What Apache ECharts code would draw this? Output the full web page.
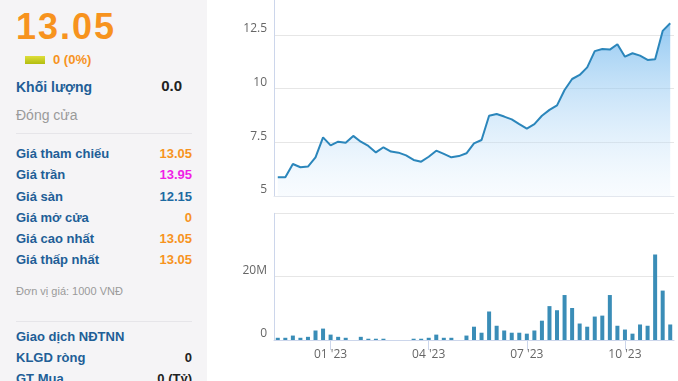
<!DOCTYPE html>
<html>
<head>
<meta charset="utf-8">
<script src="https://cdn.jsdelivr.net/npm/echarts@6/dist/echarts.min.js"></script>
<style>
html,body{margin:0;padding:0;background:#fff;width:678px;height:381px;overflow:hidden;}
#chart{position:absolute;left:0;top:0;width:678px;height:381px;}
#panel{position:absolute;left:0;top:0;width:207px;height:381px;background:#f5f4f6;z-index:2;font-family:"Liberation Sans",Arial,Helvetica,sans-serif;overflow:hidden;}
#panel div{position:absolute;white-space:nowrap;}
.lbl{left:16px;font-weight:bold;font-size:13px;line-height:20px;color:#215e96;}
.val{right:15px;font-weight:bold;font-size:13px;line-height:20px;text-align:right;}
.sep{left:16px;width:176px;height:1px;background:#e6e5e9;}
</style>
</head>
<body>
<div id="chart"></div>
<div id="panel">
  <div style="left:16px;top:7px;font-size:36px;line-height:40px;font-weight:bold;color:#f7931e;letter-spacing:2px;">13.05</div>
  <div style="left:25px;top:56px;width:20px;height:8px;background:linear-gradient(#dede3a,#b2bd10);"></div>
  <div style="left:53px;top:50px;font-size:13px;line-height:20px;font-weight:bold;color:#f7931e;">0 (0%)</div>
  <div class="lbl" style="top:77px;font-size:14px;">Khối lượng</div>
  <div style="right:25px;top:76px;font-size:15px;line-height:20px;font-weight:bold;color:#222;">0.0</div>
  <div style="left:16px;top:105px;font-size:14px;line-height:20px;color:#9a9a9a;">Đóng cửa</div>
  <div class="sep" style="top:133px;"></div>
  <div class="lbl" style="top:144px;">Giá tham chiếu</div><div class="val" style="top:144px;color:#f7931e;">13.05</div>
  <div class="lbl" style="top:165px;">Giá trần</div><div class="val" style="top:165px;color:#f01fe6;">13.95</div>
  <div class="lbl" style="top:187px;">Giá sàn</div><div class="val" style="top:187px;color:#1d6aa2;">12.15</div>
  <div class="lbl" style="top:208px;">Giá mở cửa</div><div class="val" style="top:208px;color:#f7931e;">0</div>
  <div class="lbl" style="top:229px;">Giá cao nhất</div><div class="val" style="top:229px;color:#f7931e;">13.05</div>
  <div class="lbl" style="top:250px;">Giá thấp nhất</div><div class="val" style="top:250px;color:#f7931e;">13.05</div>
  <div style="left:16px;top:282px;font-size:11px;line-height:18px;color:#9a9a9a;">Đơn vị giá: 1000 VNĐ</div>
  <div class="sep" style="top:321px;"></div>
  <div class="lbl" style="top:327px;">Giao dịch NĐTNN</div>
  <div class="lbl" style="top:348px;">KLGD ròng</div><div class="val" style="top:348px;color:#222;">0</div>
  <div class="lbl" style="top:369px;">GT Mua</div><div class="val" style="top:369px;color:#222;">0 (Tỷ)</div>
</div>
<script>
// Weekly categories (Mondays)
var dates = [
  "2022-11-14","2022-11-21","2022-11-28","2022-12-05","2022-12-12","2022-12-19","2022-12-26",
  "2023-01-02","2023-01-09","2023-01-16","2023-01-23","2023-01-30","2023-02-06","2023-02-13",
  "2023-02-20","2023-02-27","2023-03-06","2023-03-13","2023-03-20","2023-03-27","2023-04-03",
  "2023-04-10","2023-04-17","2023-04-24","2023-05-01","2023-05-08","2023-05-15","2023-05-22",
  "2023-05-29","2023-06-05","2023-06-12","2023-06-19","2023-06-26","2023-07-03","2023-07-10",
  "2023-07-17","2023-07-24","2023-07-31","2023-08-07","2023-08-14","2023-08-21","2023-08-28",
  "2023-09-04","2023-09-11","2023-09-18","2023-09-25","2023-10-02","2023-10-09","2023-10-16",
  "2023-10-23","2023-10-30","2023-11-06","2023-11-13"
];
// Closing price (1000 VND)
var price = [
  5.87, 5.87, 6.49, 6.34, 6.37, 6.80, 7.73, 7.36, 7.53, 7.48,
  7.80, 7.53, 7.33, 7.03, 7.27, 7.07, 7.02, 6.89, 6.68, 6.60,
  6.83, 7.11, 6.96, 6.80, 6.86, 6.99, 7.45, 7.61, 8.74, 8.82,
  8.70, 8.57, 8.35, 8.14, 8.35, 8.74, 9.01, 9.22, 9.94, 10.45,
  10.64, 10.99, 11.75, 11.85, 11.82, 12.07, 11.49, 11.65, 11.54, 11.34,
  11.37, 12.69, 13.05
];
// Volume (millions of shares)
var volume = [
  0.7, 0.7, 1.4, 0.7, 1.0, 3.0, 3.6, 1.7, 1.0, 0.7,
  0, 1.0, 0.4, 0.4, 0.4, 0, 0, 0, 0.4, 0.4,
  0.7, 1.7, 0.7, 0.7, 0, 1.4, 4.2, 2.3, 9.0, 4.5,
  3.0, 2.3, 2.3, 2.0, 3.0, 6.1, 10.7, 9.4, 14.2, 10.1,
  5.2, 4.2, 7.4, 7.7, 14.2, 4.5, 3.3, 2.0, 4.9, 4.5,
  27.0, 15.6, 4.9
];
var tickDates = ["2023-01-02","2023-04-03","2023-07-03","2023-10-02"];
var tickLabels = ["01 '23","04 '23","07 '23","10 '23"];

var isTick = function (idx, val) { return tickDates.indexOf(val) >= 0; };
var lblFont = {color:'#666666', fontSize:12, fontFamily:'"Open Sans", sans-serif'};

var chart = echarts.init(document.getElementById('chart'), null, {renderer:'canvas'});
chart.setOption({
  animation:false,
  backgroundColor:'#ffffff',
  grid:[
    {left:274, right:4, top:0, height:196},
    {left:274, right:4, top:213.33, height:126.67}
  ],
  xAxis:[
    {type:'category', gridIndex:0, data:dates, boundaryGap:true,
     axisLine:{show:true, lineStyle:{color:'#e3e7ee', width:1}},
     axisTick:{show:false}, axisLabel:{show:false}, splitLine:{show:false}},
    {type:'category', gridIndex:1, data:dates, boundaryGap:true,
     axisLine:{show:true, lineStyle:{color:'#ccd6eb', width:1}},
     axisTick:{show:true, alignWithLabel:true, interval:isTick, length:10, lineStyle:{color:'#ccd6eb'}},
     axisLabel:Object.assign({show:true, interval:isTick, margin:9,
       formatter:function(v){ var i = tickDates.indexOf(v); return i>=0 ? tickLabels[i] : ''; }}, lblFont),
     splitLine:{show:false}}
  ],
  yAxis:[
    {type:'value', gridIndex:0, min:5, max:14.13, interval:2.5,
     axisLine:{show:true, lineStyle:{color:'#ccd6eb'}}, axisTick:{show:false},
     axisLabel:Object.assign({margin:7, verticalAlign:'bottom', lineHeight:12, showMaxLabel:false}, lblFont),
     splitLine:{show:true, showMaxLine:false, lineStyle:{color:'#e6e6e6', width:1}}},
    {type:'value', gridIndex:1, min:0, max:40, interval:20,
     axisLine:{show:true, lineStyle:{color:'#ccd6eb'}}, axisTick:{show:false},
     axisLabel:Object.assign({margin:7, verticalAlign:'bottom', lineHeight:12, showMaxLabel:false,
       formatter:function(v){ return v ? v + 'M' : '0'; }}, lblFont),
     splitLine:{show:true, lineStyle:{color:'#e6e6e6', width:1}}}
  ],
  series:[
    {type:'line', xAxisIndex:0, yAxisIndex:0, data:price, symbol:'none', smooth:false,
     lineStyle:{color:'#2b86bb', width:2},
     areaStyle:{color:new echarts.graphic.LinearGradient(0,0,0,1,[
       {offset:0, color:'#66b2ec'}, {offset:1, color:'rgba(228,241,253,0.35)'}])}},
    {type:'bar', xAxisIndex:1, yAxisIndex:1, data:volume, barWidth:4,
     itemStyle:{color:'#3a8db7'}}
  ]
});
</script>
</body>
</html>
